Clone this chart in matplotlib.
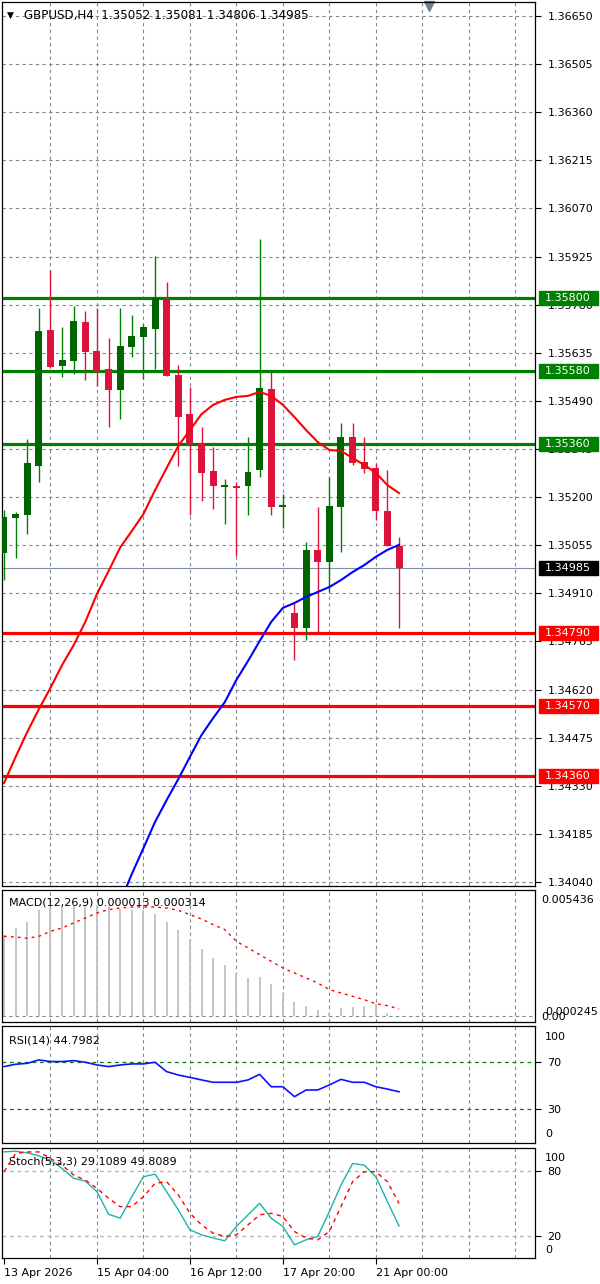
import numpy as np
import matplotlib.pyplot as plt
from matplotlib.patches import Rectangle
from matplotlib.transforms import blended_transform_factory

plt.rcParams['font.family'] = ['DejaVu Sans']

# 1. Datos GBPUSD H4
apertura = [1.35032, 1.35137, 1.35146, 1.35294, 1.35704, 1.35595, 1.35610, 1.35728, 1.35640, 1.35586,
            1.35523, 1.35652, 1.35683, 1.35707, 1.35797, 1.35568, 1.35451, 1.35363, 1.35279, 1.35231,
            1.35234, 1.35234, 1.35282, 1.35526, 1.35170, 1.34851, 1.34806, 1.35041, 1.35004, 1.35170,
            1.35381, 1.35306, 1.35288, 1.35158, 1.35052]
maximo = [1.35161, 1.35155, 1.35375, 1.35770, 1.35885, 1.35713, 1.35776, 1.35761, 1.35770, 1.35680,
          1.35770, 1.35749, 1.35722, 1.35927, 1.35848, 1.35598, 1.35532, 1.35411, 1.35351, 1.35255,
          1.35246, 1.35381, 1.35978, 1.35577, 1.35209, 1.34881, 1.35065, 1.35170, 1.35261, 1.35423,
          1.35423, 1.35381, 1.35303, 1.35282, 1.35081]
minimo = [1.34950, 1.35017, 1.35089, 1.35246, 1.35589, 1.35562, 1.35571, 1.35553, 1.35535, 1.35411,
          1.35435, 1.35622, 1.35556, 1.35586, 1.35565, 1.35294, 1.35146, 1.35188, 1.35164, 1.35119,
          1.35023, 1.35146, 1.35261, 1.35146, 1.35107, 1.34709, 1.34769, 1.34790, 1.34914, 1.35035,
          1.35297, 1.35273, 1.35131, 1.35053, 1.34806]
cierre = [1.35140, 1.35149, 1.35303, 1.35701, 1.35592, 1.35613, 1.35731, 1.35637, 1.35577, 1.35523,
          1.35655, 1.35686, 1.35713, 1.35800, 1.35565, 1.35441, 1.35360, 1.35273, 1.35234, 1.35237,
          1.35227, 1.35276, 1.35529, 1.35170, 1.35176, 1.34806, 1.35041, 1.35004, 1.35173, 1.35381,
          1.35303, 1.35285, 1.35158, 1.35053, 1.34985]

ma_roja = [1.34338, 1.34417, 1.34492, 1.34561, 1.34625, 1.34694, 1.34754, 1.34824, 1.34908, 1.34977,
           1.35048, 1.35098, 1.35149, 1.35221, 1.35288, 1.35354, 1.35402, 1.35450, 1.35478, 1.35493,
           1.35502, 1.35505, 1.35517, 1.35505, 1.35478, 1.35441, 1.35402, 1.35366, 1.35342, 1.35339,
           1.35318, 1.35297, 1.35273, 1.35236, 1.35212]
ma_azul = [np.nan] * 10 + [1.33980, 1.34064, 1.34142, 1.34221, 1.34287, 1.34350, 1.34417, 1.34483,
                           1.34534, 1.34582, 1.34649, 1.34706, 1.34766, 1.34824, 1.34866, 1.34881,
                           1.34899, 1.34914, 1.34929, 1.34950, 1.34974, 1.34995, 1.35020, 1.35041,
                           1.35056]

macd_hist = [0.003516, 0.003787, 0.004046, 0.004562, 0.004648, 0.004691, 0.004734, 0.004777, 0.004777,
             0.004734, 0.004605, 0.004562, 0.004562, 0.004390, 0.004046, 0.003701, 0.003314, 0.002884,
             0.002496, 0.002195, 0.001851, 0.001635, 0.001678, 0.001377, 0.000990, 0.000603, 0.000430,
             0.000258, 0.000129, 0.000344, 0.000387, 0.000430, 0.000516, 0.000129, 0.000013]
macd_senal = [0.003443, 0.003414, 0.003357, 0.003443, 0.003658, 0.003802, 0.004017, 0.004232, 0.004447,
              0.004591, 0.004663, 0.004706, 0.004706, 0.004706, 0.004663, 0.004562, 0.004376, 0.004189,
              0.003945, 0.003730, 0.003228, 0.002941, 0.002654, 0.002367, 0.002080, 0.001865, 0.001650,
              0.001435, 0.001148, 0.001004, 0.000861, 0.000717, 0.000545, 0.000459, 0.000314]

rsi = [66.3, 68.3, 69.1, 72.0, 70.6, 70.6, 71.4, 70.0, 67.7, 66.3, 67.7, 68.6, 68.6, 70.0, 62.0,
       59.1, 57.1, 54.9, 52.9, 52.9, 52.9, 54.9, 59.7, 49.1, 49.1, 40.6, 46.3, 46.3, 50.6, 55.4,
       52.9, 52.9, 49.1, 47.1, 44.8]
stoch_k = [97.4, 98.1, 96.5, 93.8, 89.8, 82.1, 73.0, 70.5, 60.7, 39.9, 36.2, 56.1, 74.5, 76.9, 60.7,
           43.9, 25.5, 20.9, 17.9, 15.4, 28.6, 39.3, 50.0, 36.2, 28.6, 11.7, 16.3, 19.4, 42.3, 66.8,
           86.7, 85.2, 74.5, 51.5, 29.1]
stoch_d = [79.1, 95.9, 97.4, 97.4, 91.3, 85.2, 76.0, 71.4, 63.8, 54.6, 46.9, 46.9, 56.1, 68.4, 69.9,
           57.7, 40.8, 30.1, 22.4, 19.4, 20.9, 30.1, 39.3, 40.8, 37.8, 23.9, 17.9, 16.3, 23.9, 46.9,
           69.9, 79.1, 79.1, 69.9, 49.8]

resistencias = [1.35800, 1.35580, 1.35360]
soportes = [1.34790, 1.34570, 1.34360]
precio_actual = 1.34985
ticks_precio = [1.36650, 1.36505, 1.36360, 1.36215, 1.36070, 1.35925, 1.35780, 1.35635, 1.35490,
                1.35345, 1.35200, 1.35055, 1.34910, 1.34765, 1.34620, 1.34475, 1.34330, 1.34185, 1.34040]
fechas = ['13 Apr 2026', '15 Apr 04:00', '16 Apr 12:00', '17 Apr 20:00', '21 Apr 00:00']
fechas_barra = [0, 8, 16, 24, 32]

# 2. Figura y paneles (coordenadas en pixeles)
W, H = 600, 1284
fig = plt.figure(figsize=(W / 100, H / 100), dpi=100)


def rect(x0, y0, x1, y1):
    return [x0 / W, 1 - y1 / H, (x1 - x0) / W, (y1 - y0) / H]


ax = fig.add_axes(rect(2, 2, 535, 886))
ax_macd = fig.add_axes(rect(2, 890, 535, 1022))
ax_rsi = fig.add_axes(rect(2, 1026, 535, 1143))
ax_st = fig.add_axes(rect(2, 1148, 535, 1258))

color_grid = '#7d8894'
dash = (0, (3, 3))
fs = 8
xlim = (-0.172, 45.7)
x_lab = 1.0188
x = np.arange(len(cierre))

for a in (ax, ax_macd, ax_rsi, ax_st):
    a.set_xlim(*xlim)
    for s in a.spines.values():
        s.set_linewidth(0.9)
        s.set_color('black')
    for i in range(4, 46, 4):
        a.axvline(i, color=color_grid, lw=0.8, ls=dash, zorder=0)
    a.set_xticks([])
    a.yaxis.tick_right()
    a.tick_params(axis='y', length=4, width=0.8, pad=5, labelsize=fs)

# 3. Grafico de velas
ax.set_ylim(1.340279, 1.366922)
for p in ticks_precio:
    ax.axhline(p, color=color_grid, lw=0.8, ls=dash, zorder=0)
ax.set_yticks(ticks_precio, [f'{p:.5f}' for p in ticks_precio])

ap, ci = np.array(apertura), np.array(cierre)
alcista = ci >= ap
col_mecha = np.where(alcista, '#008000', '#dc143c')
col_cuerpo = np.where(alcista, '#006400', '#dc143c')
alto = np.maximum(np.abs(ci - ap), 0.00004)
base = np.minimum(ap, ci)
ax.vlines(x, minimo, maximo, colors=col_mecha, lw=1.0, zorder=3)
ax.bar(x, alto, bottom=base, width=0.6, color=col_cuerpo, lw=0, zorder=3)

ax.plot(x, ma_roja, color='#ff0000', lw=1.5, zorder=4)
ax.plot(x, ma_azul, color='#0000ff', lw=1.5, zorder=4)

trans = blended_transform_factory(ax.transAxes, ax.transData)
px = (ax.get_ylim()[1] - ax.get_ylim()[0]) / 884


def etiqueta(valor, fondo):
    ax.add_patch(Rectangle((1.0075, valor - 7 * px), 0.1107, 14 * px, transform=trans,
                           facecolor=fondo, edgecolor=fondo, clip_on=False, zorder=6))
    ax.text(x_lab, valor, f'{valor:.5f}', transform=trans, color='white', fontsize=fs,
            va='center', ha='left', zorder=7, clip_on=False)


for lv in resistencias:
    ax.axhline(lv, color='#008000', lw=2.3, zorder=2)
    etiqueta(lv, '#008000')
for lv in soportes:
    ax.axhline(lv, color='#ff0000', lw=2.3, zorder=2)
    etiqueta(lv, '#ff0000')
ax.axhline(precio_actual, color='#8090a0', lw=0.8, zorder=1)
etiqueta(precio_actual, 'black')

fig.text(7 / W, 1 - 15 / H, '\u25bc', fontsize=6.5, va='center', ha='left')
fig.text(24 / W, 1 - 15 / H, 'GBPUSD,H4  1.35052 1.35081 1.34806 1.34985',
         fontsize=8.6, va='center', ha='left')
ax.plot([0.801], [0.995], marker='v', color='#708090', ms=7, transform=ax.transAxes, clip_on=False)

# 4. MACD
ax_macd.set_ylim(-0.000245, 0.005436)
ax_macd.axhline(0, color=color_grid, lw=0.8, ls=dash, zorder=0)
ax_macd.vlines(x, 0, macd_hist, color='#c0c0c0', lw=1.3, zorder=2)
ax_macd.plot(x, macd_senal, color='#ff0000', lw=1.0, ls=(0, (2, 3)), zorder=3)
ax_macd.set_yticks([])
ax_macd.text(1.0113, 0.924, '0.005436', transform=ax_macd.transAxes, fontsize=fs, va='center')
ax_macd.text(1.019, 0.075, '0.000245', transform=ax_macd.transAxes, fontsize=fs, va='center')
ax_macd.text(1.0113, 0.035, '0.00', transform=ax_macd.transAxes, fontsize=fs, va='center')
ax_macd.text(0.013, 0.905, 'MACD(12,26,9) 0.000013 0.000314', transform=ax_macd.transAxes,
             fontsize=fs, va='center')

# 5. RSI
ax_rsi.set_ylim(1, 101)
for lv in (70, 30):
    ax_rsi.axhline(lv, color='#008000', lw=0.9, ls=dash, zorder=1)
ax_rsi.plot(x, rsi, color='#1010ff', lw=1.2, zorder=3)
ax_rsi.set_yticks([70, 30], ['70', '30'])
ax_rsi.text(x_lab, 0.906, '100', transform=ax_rsi.transAxes, fontsize=fs, va='center')
ax_rsi.text(x_lab, 0.077, '0', transform=ax_rsi.transAxes, fontsize=fs, va='center')
ax_rsi.text(0.013, 0.88, 'RSI(14) 44.7982', transform=ax_rsi.transAxes, fontsize=fs, va='center')

# 6. Estocastico
ax_st.set_ylim(-0.5, 101)
for lv in (80, 20):
    ax_st.axhline(lv, color='#b4b4b4', lw=0.9, ls=dash, zorder=1)
ax_st.plot(x, stoch_k, color='#20b2aa', lw=1.0, zorder=3)
ax_st.plot(x, stoch_d, color='#ff0000', lw=1.0, ls=(0, (3, 3)), zorder=3)
ax_st.set_yticks([80, 20], ['80', '20'])
ax_st.text(x_lab, 0.909, '100', transform=ax_st.transAxes, fontsize=fs, va='center')
ax_st.text(x_lab, 0.073, '0', transform=ax_st.transAxes, fontsize=fs, va='center')
ax_st.text(0.013, 0.88, 'Stoch(5,3,3) 29.1089 49.8089', transform=ax_st.transAxes,
           fontsize=fs, va='center')

ax_st.set_xticks(fechas_barra, fechas)
ax_st.tick_params(axis='x', length=4, width=0.8, pad=3, labelsize=fs)
for lbl in ax_st.get_xticklabels():
    lbl.set_ha('left')

fig.savefig('out.png', dpi=100)
